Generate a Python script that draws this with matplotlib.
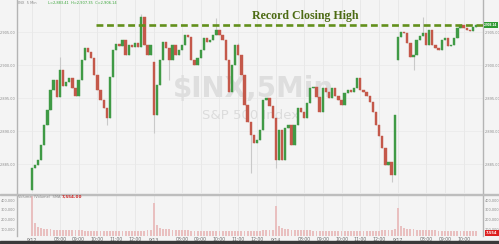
import matplotlib
matplotlib.use("Agg")
import matplotlib.pyplot as plt
from matplotlib.patches import Rectangle
import numpy as np

# 10-minute bars, four sessions (39 bars per full session)
closes = [
    2884.47, 2884.92, 2885.68, 2887.95, 2890.98, 2893.26, 2896.29, 2897.80, 2895.23, 2899.32,
    2896.89, 2897.50, 2898.11, 2896.59, 2895.38, 2897.80, 2900.83, 2902.65, 2902.05, 2901.14,
    2898.56, 2896.29, 2894.77, 2893.56, 2892.05, 2898.26, 2902.35, 2903.26, 2902.95, 2903.86,
    2901.59, 2903.11, 2902.80, 2903.41, 2902.80, 2907.35, 2903.11, 2901.59, 2903.11,
    2892.50, 2897.05, 2900.83, 2903.56, 2902.65, 2900.83, 2903.11, 2901.59, 2902.35, 2903.11,
    2904.62, 2904.32, 2900.83, 2900.08, 2901.14, 2902.35, 2904.17, 2903.56, 2903.86, 2904.62,
    2905.38, 2904.62, 2903.86, 2900.83, 2895.98, 2900.08, 2903.11, 2901.59, 2898.56, 2894.02,
    2891.44, 2889.47, 2888.26, 2888.71, 2890.23, 2894.77, 2895.08, 2893.86, 2892.05,
    2885.68, 2890.23, 2885.68, 2890.53, 2890.98, 2887.95, 2890.98, 2893.56, 2892.95, 2892.05,
    2894.32, 2896.59, 2896.74, 2895.23, 2892.95, 2896.59, 2895.98, 2895.08, 2896.59, 2895.38,
    2894.77, 2894.02, 2895.83, 2896.29, 2895.98, 2896.59, 2898.11, 2896.29, 2896.00, 2895.38,
    2894.47, 2892.95, 2890.98, 2889.32, 2887.50, 2884.92, 2885.38, 2883.41, 2892.50,
    2904.32, 2905.08, 2904.92, 2903.41, 2901.29, 2901.59, 2903.86, 2904.47, 2904.92, 2903.11,
    2905.38, 2903.11, 2902.65, 2902.35, 2903.86, 2904.17, 2902.95, 2903.11, 2904.17, 2905.68,
    2906.14, 2905.68, 2905.38, 2905.23, 2905.83, 2906.14,
]
# opening prints of each session (bar index -> price)
session_opens = {0: 2881.14, 39: 2900.53, 117: 2900.83}
# long wicks that stick out of the bodies
wick_highs = {9: 2901.29, 35: 2907.80, 59: 2907.20, 66: 2903.41, 125: 2907.35}
wick_lows = {24: 2890.98, 39: 2889.77, 44: 2897.80, 70: 2883.71, 78: 2884.47,
             115: 2882.35, 122: 2899.32}

volume_k = [
    445, 160, 120, 110, 105, 100, 98, 95, 92, 92, 90, 88, 88, 87, 86, 85, 85, 84, 84, 83,
    83, 82, 82, 82, 81, 81, 80, 80, 80, 80, 80, 80, 80, 81, 82, 83, 84, 86, 90,
    370, 140, 115, 105, 100, 96, 93, 90, 88, 87, 86, 85, 84, 84, 83, 83, 82, 82, 82, 81,
    81, 81, 80, 80, 80, 80, 80, 80, 80, 80, 81, 81, 82, 83, 84, 85, 87, 90, 95,
    335, 130, 112, 104, 98, 95, 92, 90, 88, 87, 86, 85, 84, 84, 83, 83, 82, 82, 81, 81,
    81, 80, 80, 80, 80, 80, 80, 80, 80, 81, 81, 82, 83, 84, 85, 87, 90, 95, 100,
    315, 135, 115, 105, 100, 96, 93, 91, 89, 88, 87, 86, 85, 84, 84, 83, 83, 82, 82, 82,
    81, 81, 81, 80, 80, 80,
]

record_close = 2906.10
price_ticks = [2885, 2890, 2895, 2900, 2905]
vol_ticks_k = [100, 200, 300, 400]

tick_pos = [0, 9, 15, 21, 27, 33, 39, 48, 54, 60, 66, 72, 78, 87, 93, 99, 105, 111,
            117, 126, 132, 138]
tick_labels = ["9/12", "08:00", "09:00", "10:00", "11:00", "12:00",
               "9/13", "08:00", "09:00", "10:00", "11:00", "12:00",
               "9/14", "08:00", "09:00", "10:00", "11:00", "12:00",
               "9/17", "08:00", "09:00", "10:00"]

W, H = 499, 244
bg = "#f4f4f4"
up_col = "#3f9a45"
down_col = "#c4584a"
lbl_col = "#8a8a8a"

fig = plt.figure(figsize=(W / 100, H / 100), dpi=100, facecolor=bg)


def px_box(x0, y0, x1, y1):
    return [x0 / W, 1 - y1 / H, (x1 - x0) / W, (y1 - y0) / H]


ax = fig.add_axes(px_box(17, 0, 483, 193), facecolor=bg)
axv = fig.add_axes(px_box(17, 195, 483, 236), facecolor=bg, sharex=ax)

n = len(closes)
idx = np.arange(n)
closes_a = np.array(closes)
opens_a = np.r_[closes_a[0], closes_a[:-1]]
for k, v in session_opens.items():
    opens_a[k] = v
highs_a = np.maximum(opens_a, closes_a)
lows_a = np.minimum(opens_a, closes_a)
for k, v in wick_highs.items():
    highs_a[k] = max(highs_a[k], v)
for k, v in wick_lows.items():
    lows_a[k] = min(lows_a[k], v)

up = closes_a >= opens_a
colors = np.where(up, up_col, down_col)

# grid
for t in tick_pos:
    ax.axvline(t, color="#e6e6e6", lw=0.6, zorder=0)
    axv.axvline(t, color="#e6e6e6", lw=0.6, zorder=0)
for p in price_ticks:
    ax.axhline(p, color="#e9e9e9", lw=0.5, zorder=0)

# watermark
ax.text(71, 2896.4, "$INX,5Min", fontsize=20, fontweight="bold", color="#dedede",
        ha="center", va="center", zorder=0)
ax.text(70, 2892.4, "S&P 500 Index", fontsize=9.5, color="#dcdcdc",
        ha="center", va="center", zorder=0)

# candles
ax.vlines(idx, lows_a, highs_a, color="#c9c9c9", lw=0.8, zorder=1)
body = np.maximum(np.abs(closes_a - opens_a), 0.12)
ax.bar(idx, body, bottom=np.minimum(opens_a, closes_a), width=0.75,
       color=colors, edgecolor=colors, linewidth=0.3, zorder=2)

# record close line
ax.plot([20.5, n + 3], [record_close, record_close], color="#62901c", lw=1.9,
        dashes=(2.6, 1.4), zorder=3)
ax.text(70.5, record_close + 0.55, "Record Closing High", fontsize=8.6,
        family="Liberation Serif", fontweight="bold", color="#4d6b14",
        ha="left", va="bottom", zorder=4)

ax.set_xlim(-4.7, 144.2)
ax.set_ylim(2880.68, 2909.92)

# volume
axv.bar(idx, np.array(volume_k) * 1000, width=0.6, color="#e9c0c0", zorder=1)
axv.set_ylim(28000, 452000)

for a in (ax, axv):
    a.tick_params(axis="both", length=0, labelsize=2.5, labelcolor=lbl_col, pad=1)
    for s in ("top", "bottom"):
        a.spines[s].set_visible(False)
    for s in ("left", "right"):
        a.spines[s].set_color("#b4b4b4")
        a.spines[s].set_linewidth(1.0)

ax.set_yticks(price_ticks)
ax.set_yticklabels([f"{p:,.2f}" for p in price_ticks])
ax.tick_params(labelright=True, labelbottom=False)
axv.set_yticks([v * 1000 for v in vol_ticks_k])
axv.set_yticklabels([f"{v * 1000:,}" for v in vol_ticks_k])
axv.tick_params(labelright=True)
axv.set_xticks(tick_pos)
axv.set_xticklabels(tick_labels, fontsize=3.3, color="#666666")

# header / legend text
fig.text(18 / W, 1 - 3 / H, "INX  5 Min", fontsize=2.6, color=lbl_col, va="center")
fig.text(48 / W, 1 - 3 / H, f"L=2,883.41  H={max(closes):,.2f}  C={closes[-1]:,.2f}",
         fontsize=2.6, color="#3aa53a", va="center")
fig.text(18 / W, 1 - 197 / H, "Volume  (Volume)  SMA", fontsize=2.6,
         color=lbl_col, va="center")
fig.text(62 / W, 1 - 197 / H, "7,554.00", fontsize=3, color="#cc2222",
         fontweight="bold", va="center")

# last price / last volume boxes on the right axis
fig.text(497.5 / W, 1 - 25 / H, f"{closes[-1]:,.2f}", fontsize=2.0, color="white",
         fontweight="bold", va="center", ha="right",
         bbox=dict(boxstyle="square,pad=0.25", fc="#2f9a33", ec="none"))
fig.text(497.5 / W, 1 - 233 / H, "7,554", fontsize=2.6, color="white",
         fontweight="bold", va="center", ha="right",
         bbox=dict(boxstyle="square,pad=0.3", fc="#dd2020", ec="none"))

# separator between panels and dark footer band
fig.add_artist(Rectangle((0, 1 - 195 / H), 1, 0.8 / H, transform=fig.transFigure,
                         color="#bdbdbd"))
fig.add_artist(Rectangle((0, 0), 1, 3 / H, transform=fig.transFigure,
                         color="#3a3a3a"))

fig.savefig("out.png", dpi=100, facecolor=bg)
